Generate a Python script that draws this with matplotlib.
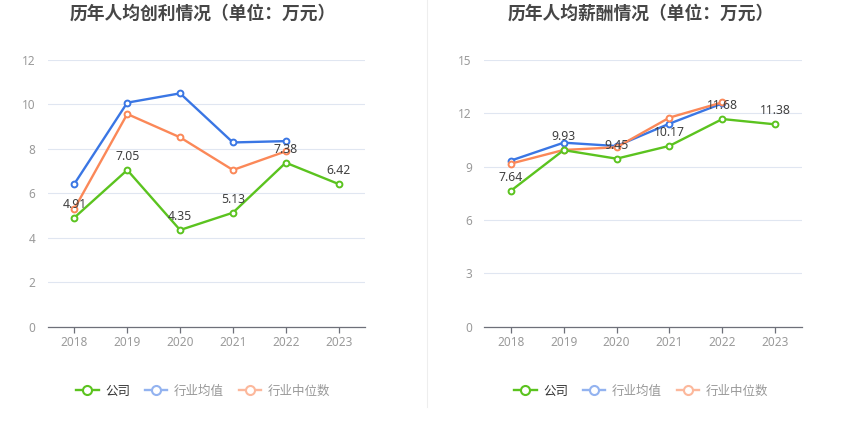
import matplotlib
matplotlib.use("Agg")
import matplotlib.pyplot as plt
from matplotlib.lines import Line2D

plt.rcParams['font.family'] = ['Noto Sans', 'Noto Sans CJK SC', 'DejaVu Sans']

years = ['2018', '2019', '2020', '2021', '2022', '2023']

profit_company = [4.91, 7.05, 4.35, 5.13, 7.38, 6.42]
profit_mean = [6.43, 10.08, 10.50, 8.29, 8.35]
profit_median = [5.31, 9.57, 8.52, 7.05, 7.89]

salary_company = [7.64, 9.93, 9.45, 10.17, 11.68, 11.38]
salary_mean = [9.34, 10.35, 10.16, 11.42, 12.56]
salary_median = [9.17, 9.94, 10.09, 11.76, 12.62]

titles = ['历年人均创利情况（单位：万元）', '历年人均薪酬情况（单位：万元）']
legend_labels = ['公司', '行业均值', '行业中位数']
profit_ticks = [0, 2, 4, 6, 8, 10, 12]
salary_ticks = [0, 3, 6, 9, 12, 15]

GREEN = '#5bc31f'
BLUE = '#3a76e4'
ORANGE = '#fb8858'
GREEN_L = '#5bc31f'
BLUE_L = '#93b3f0'
ORANGE_L = '#fcb89c'

W, H = 850, 437
fig = plt.figure(figsize=(W / 100, H / 100), dpi=100)


def px_axes(x0, x1, ytop, ybot):
    return fig.add_axes([x0 / W, 1 - ybot / H, (x1 - x0) / W, (ybot - ytop) / H])


def draw(ax, company, mean, median, ticks, title, cx):
    xs = list(range(len(years)))
    kw = dict(lw=1.7, marker='o', ms=4.2, mfc='white', mew=1.4, zorder=3,
              solid_joinstyle='round')
    ax.plot(xs[:len(mean)], mean, color=BLUE, **kw)
    ax.plot(xs[:len(median)], median, color=ORANGE, **kw)
    ax.plot(xs, company, color=GREEN, **kw)
    for x, v in zip(xs, company):
        ax.annotate(f'{v:.2f}', (x, v), xytext=(0, 5), textcoords='offset points',
                    ha='center', va='bottom', fontsize=8.8, color='#404040', zorder=4)
    ax.set_xlim(-0.5, len(years) - 0.5)
    ax.set_ylim(ticks[0], ticks[-1])
    ax.set_yticks(ticks)
    ax.set_xticks(xs)
    ax.set_xticklabels(years)
    ax.grid(axis='y', color='#e0e6f1', lw=0.8)
    ax.set_axisbelow(True)
    for s in ['top', 'right', 'left']:
        ax.spines[s].set_visible(False)
    ax.spines['bottom'].set_color('#6e7079')
    ax.spines['bottom'].set_linewidth(0.9)
    ax.tick_params(axis='y', length=0, pad=9, labelsize=8.5, labelcolor='#9a9a9a')
    ax.tick_params(axis='x', length=4, width=0.9, color='#6e7079', pad=3,
                   labelsize=8.5, labelcolor='#9a9a9a')
    fig.text(cx / W, 1 - 14 / H, title, ha='center', va='center', fontsize=12.8,
             fontweight='bold', color='#464646')
    handles = [
        Line2D([], [], color=GREEN_L, lw=1.7, marker='o', ms=6.5, mfc='white', mew=1.5),
        Line2D([], [], color=BLUE_L, lw=1.7, marker='o', ms=6.5, mfc='white', mew=1.5),
        Line2D([], [], color=ORANGE_L, lw=1.7, marker='o', ms=6.5, mfc='white', mew=1.5),
    ]
    leg = fig.legend(handles, legend_labels, loc='center',
                     bbox_to_anchor=(cx / W, 1 - 391 / H), ncol=3, frameon=False,
                     fontsize=9, handlelength=1.8, handletextpad=0.5,
                     columnspacing=1.2)
    cols = ['#333333', '#999999', '#999999']
    for t, c in zip(leg.get_texts(), cols):
        t.set_color(c)


ax1 = px_axes(48, 365, 60, 326.7)
draw(ax1, profit_company, profit_mean, profit_median, profit_ticks, titles[0], 203)

ax2 = px_axes(484.3, 801.7, 60, 326.7)
draw(ax2, salary_company, salary_mean, salary_median, salary_ticks, titles[1], 641)

fig.add_artist(Line2D([427 / W, 427 / W], [1 - 0 / H, 1 - 407 / H],
                      color='#eeeeee', lw=0.8))

fig.savefig('out.png', dpi=100, facecolor='white')
